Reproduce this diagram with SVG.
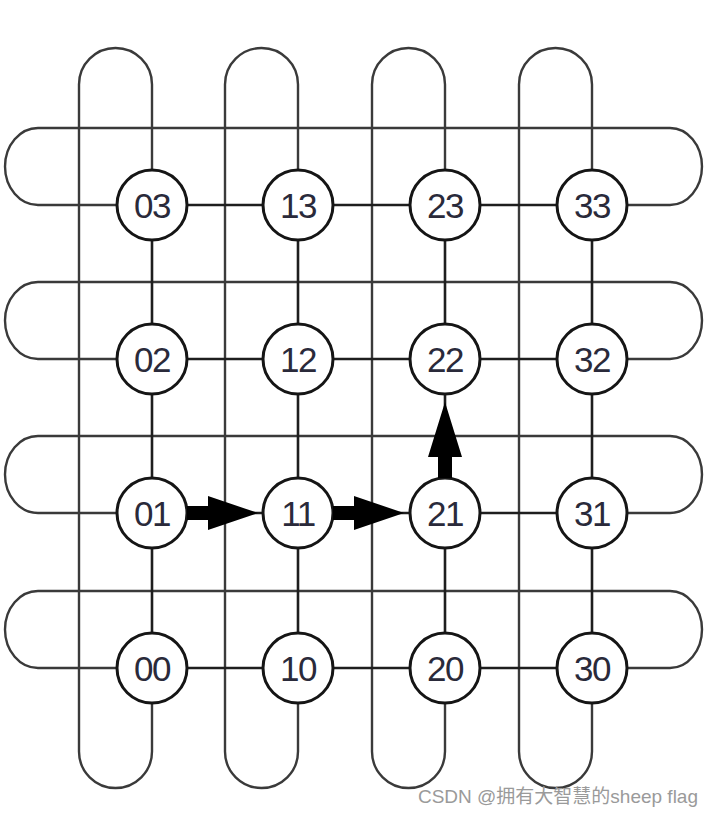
<svg xmlns="http://www.w3.org/2000/svg" width="714" height="814" viewBox="0 0 714 814">
<style>
.wrap{fill:none;stroke:#3a3a3a;stroke-width:2.4}
.link{fill:none;stroke:#1e1e1e;stroke-width:2.6}
.node circle{fill:#fff;stroke:#151515;stroke-width:3}
.node text{font-family:"Liberation Sans",Arial,sans-serif;font-size:35px;fill:#2a2a3a;text-anchor:middle;letter-spacing:-1.5px}
.arrow{fill:#000}
.wm{font-family:"Liberation Sans","Noto Sans CJK SC",sans-serif;font-size:19px;fill:#9a9a9a;text-anchor:end}
</style>
<rect width="714" height="814" fill="#fff"/>
<g id="connectors">
<path class="wrap" d="M116 205 H38 A33 38.5 0 0 1 38 128 H670 A32 38.5 0 0 1 670 205 H628"/>
<path class="wrap" d="M116 359 H38 A33 38.5 0 0 1 38 282 H670 A32 38.5 0 0 1 670 359 H628"/>
<path class="wrap" d="M116 513 H38 A33 38.5 0 0 1 38 436 H670 A32 38.5 0 0 1 670 513 H628"/>
<path class="wrap" d="M116 668 H38 A33 38.5 0 0 1 38 591 H670 A32 38.5 0 0 1 670 668 H628"/>
<path class="wrap" d="M152 170 V84.5 A36.5 36.5 0 0 0 79 84.5 V751.5 A36.5 36.5 0 0 0 152 751.5 V703"/>
<path class="wrap" d="M298 170 V84.5 A36.5 36.5 0 0 0 225 84.5 V751.5 A36.5 36.5 0 0 0 298 751.5 V703"/>
<path class="wrap" d="M445 170 V84.5 A36.5 36.5 0 0 0 372 84.5 V751.5 A36.5 36.5 0 0 0 445 751.5 V703"/>
<path class="wrap" d="M592 170 V84.5 A36.5 36.5 0 0 0 519 84.5 V751.5 A36.5 36.5 0 0 0 592 751.5 V703"/>
<path class="link" d="M152 205 H592 M152 359 H592 M152 513 H592 M152 668 H592"/>
<path class="link" d="M152 205 V668 M298 205 V668 M445 205 V668 M592 205 V668"/>
</g>
<g id="n03" class="node"><circle cx="152" cy="205" r="35"/><text x="152" y="218">03</text></g>
<g id="n13" class="node"><circle cx="298" cy="205" r="35"/><text x="298" y="218">13</text></g>
<g id="n23" class="node"><circle cx="445" cy="205" r="35"/><text x="445" y="218">23</text></g>
<g id="n33" class="node"><circle cx="592" cy="205" r="35"/><text x="592" y="218">33</text></g>
<g id="n02" class="node"><circle cx="152" cy="359" r="35"/><text x="152" y="372">02</text></g>
<g id="n12" class="node"><circle cx="298" cy="359" r="35"/><text x="298" y="372">12</text></g>
<g id="n22" class="node"><circle cx="445" cy="359" r="35"/><text x="445" y="372">22</text></g>
<g id="n32" class="node"><circle cx="592" cy="359" r="35"/><text x="592" y="372">32</text></g>
<g id="n01" class="node"><circle cx="152" cy="513" r="35"/><text x="152" y="526">01</text></g>
<g id="n11" class="node"><circle cx="298" cy="513" r="35"/><text x="298" y="526">11</text></g>
<g id="n21" class="node"><circle cx="445" cy="513" r="35"/><text x="445" y="526">21</text></g>
<g id="n31" class="node"><circle cx="592" cy="513" r="35"/><text x="592" y="526">31</text></g>
<g id="n00" class="node"><circle cx="152" cy="668" r="35"/><text x="152" y="681">00</text></g>
<g id="n10" class="node"><circle cx="298" cy="668" r="35"/><text x="298" y="681">10</text></g>
<g id="n20" class="node"><circle cx="445" cy="668" r="35"/><text x="445" y="681">20</text></g>
<g id="n30" class="node"><circle cx="592" cy="668" r="35"/><text x="592" y="681">30</text></g>
<g id="route">
<polygon class="arrow" points="187,506 208,506 208,496 258,513 208,530 208,520 187,520"/>
<polygon class="arrow" points="333,506 354,506 354,496 404,513 354,530 354,520 333,520"/>
<polygon class="arrow" points="438,478 438,457 428,457 445,402 462,457 452,457 452,478"/>
</g>
<text class="wm" x="698" y="803">CSDN @拥有大智慧的sheep flag</text>
</svg>
